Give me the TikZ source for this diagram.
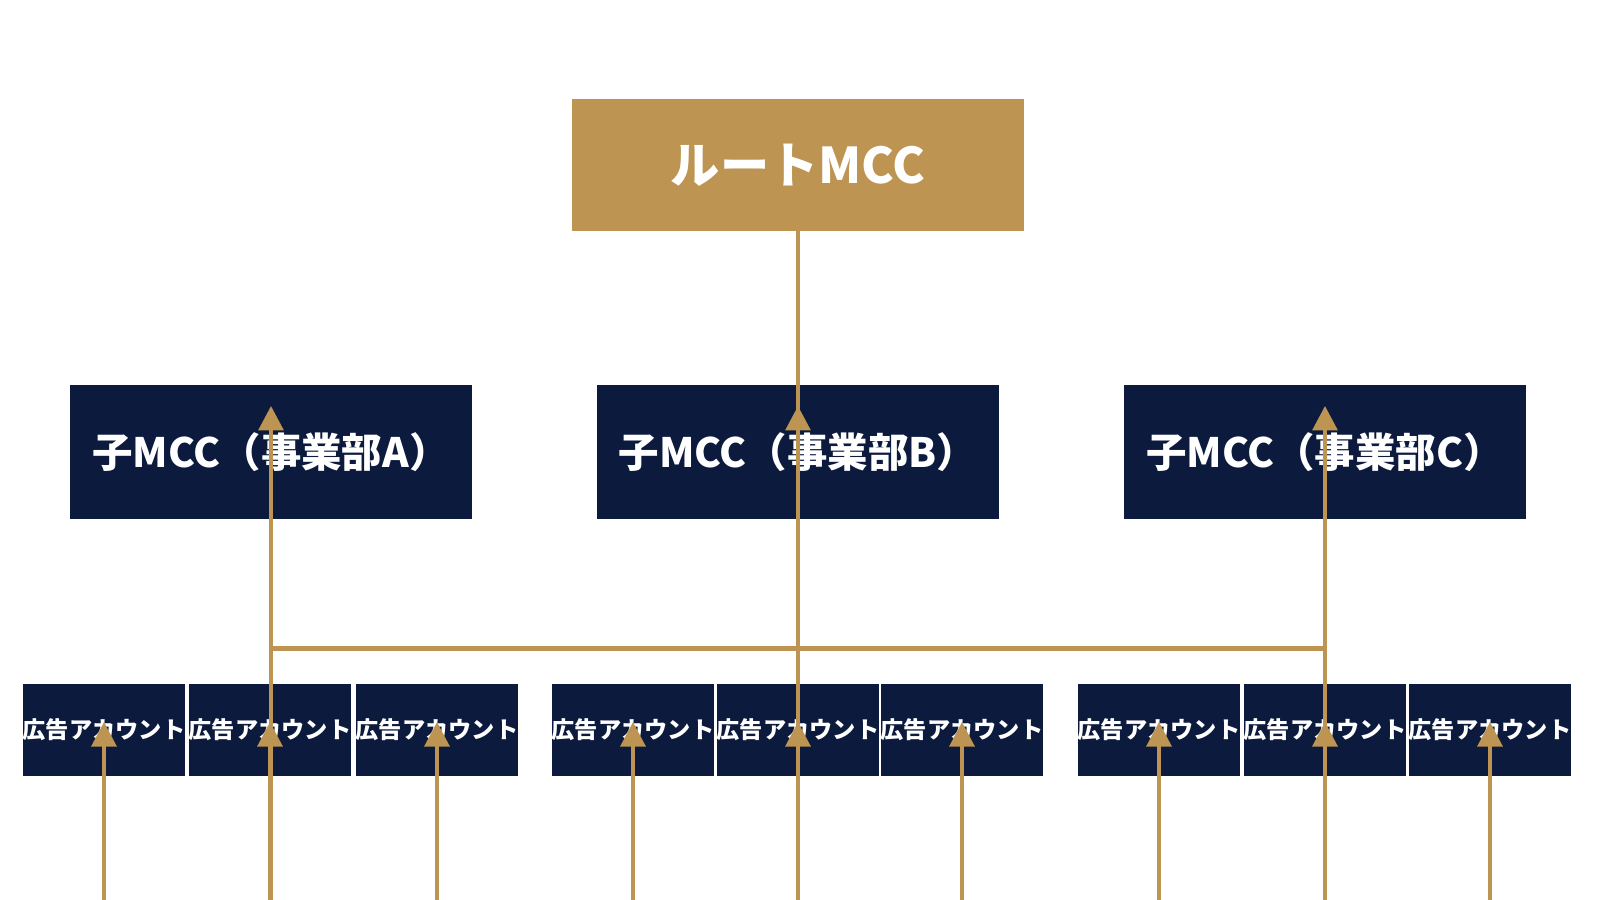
\documentclass[tikz,border=0pt]{standalone}
\usepackage{fontspec}
\setmainfont{Noto Sans CJK JP}
\usetikzlibrary{arrows.meta}
\definecolor{gold}{HTML}{BD9452}
\definecolor{navy}{HTML}{0B1A3D}
\begin{document}
\begin{tikzpicture}[x=0.01cm, y=-0.01cm,
  root/.style={fill=gold, text=white, font=\bfseries\fontsize{14}{16}\selectfont, minimum width=4.51cm, minimum height=1.31cm, inner sep=0pt},
  sub/.style={fill=navy, text=white, font=\bfseries\fontsize{11.5}{14}\selectfont, minimum width=4.02cm, minimum height=1.33cm, inner sep=0pt},
  acct/.style={fill=navy, text=white, font=\bfseries\fontsize{6.6}{8}\selectfont, minimum width=1.53cm, minimum height=0.92cm, inner sep=0pt},
  link/.style={draw=gold, line width=1.3pt, -{Triangle[width=7pt,length=7pt]}}]
\useasboundingbox (0,0) rectangle (1600,900);
\node[root] (mcc) at (798,165) {ルートMCC};
\node[sub] (mccA) at (271,452) {子MCC（事業部A）};
\node[sub] (mccB) at (798,452) {子MCC（事業部B）};
\node[sub] (mccC) at (1325,452) {子MCC（事業部C）};
\node[acct] (a1) at (104,730) {広告アカウント};
\node[acct] (a2) at (270,730) {広告アカウント};
\node[acct] (a3) at (437,730) {広告アカウント};
\node[acct] (b1) at (633,730) {広告アカウント};
\node[acct] (b2) at (798,730) {広告アカウント};
\node[acct] (b3) at (962,730) {広告アカウント};
\node[acct] (c1) at (1159,730) {広告アカウント};
\node[acct] (c2) at (1325,730) {広告アカウント};
\node[acct] (c3) at (1490,730) {広告アカウント};
\foreach \s in {mccA,mccB,mccC}
  \draw[link] (mcc.south) |- ([yshift=-75]\s.north) -- ([yshift=-6]\s.north);
\foreach \p/\c in {mccA/a1,mccA/a2,mccA/a3,mccB/b1,mccB/b2,mccB/b3,mccC/c1,mccC/c2,mccC/c3}
  \draw[link] (\p.south) |- ([yshift=-86]\c.north) -- ([yshift=-11]\c.north);
\end{tikzpicture}
\end{document}
